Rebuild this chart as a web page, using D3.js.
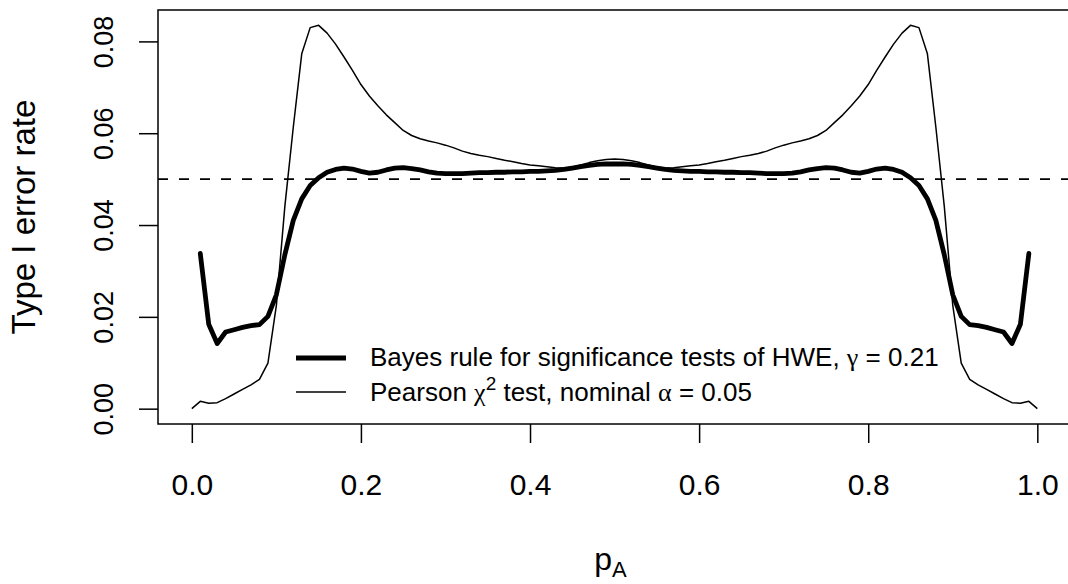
<!DOCTYPE html>
<html>
<head>
<meta charset="utf-8">
<script src="https://cdn.jsdelivr.net/npm/d3@7"></script>
<style>
  body { margin: 0; background: #fff; }
  text { font-family: "Liberation Sans", Arial, Helvetica, sans-serif; fill: #000; }
  .greek { font-family: "Liberation Serif", "DejaVu Serif", serif; }
</style>
</head>
<body>
<div id="chart"></div>
<script>
// allele frequency grid
const pA = [
  0.00, 0.01, 0.02, 0.03, 0.04, 0.05, 0.06, 0.07, 0.08, 0.09,
  0.10, 0.11, 0.12, 0.13, 0.14, 0.15, 0.16, 0.17, 0.18, 0.19,
  0.20, 0.21, 0.22, 0.23, 0.24, 0.25, 0.26, 0.27, 0.28, 0.29,
  0.30, 0.31, 0.32, 0.33, 0.34, 0.35, 0.36, 0.37, 0.38, 0.39,
  0.40, 0.41, 0.42, 0.43, 0.44, 0.45, 0.46, 0.47, 0.48, 0.49,
  0.50, 0.51, 0.52, 0.53, 0.54, 0.55, 0.56, 0.57, 0.58, 0.59,
  0.60, 0.61, 0.62, 0.63, 0.64, 0.65, 0.66, 0.67, 0.68, 0.69,
  0.70, 0.71, 0.72, 0.73, 0.74, 0.75, 0.76, 0.77, 0.78, 0.79,
  0.80, 0.81, 0.82, 0.83, 0.84, 0.85, 0.86, 0.87, 0.88, 0.89,
  0.90, 0.91, 0.92, 0.93, 0.94, 0.95, 0.96, 0.97, 0.98, 0.99,
  1.00
];

// Bayes rule (gamma = 0.21), not defined at the two ends
const bayesRate = [
  null,   0.0338, 0.0184, 0.0142, 0.0167, 0.0172, 0.0177, 0.0181, 0.0183, 0.0201,
  0.0248, 0.0335, 0.0410, 0.0457, 0.0486, 0.0503, 0.0515, 0.0521, 0.0524, 0.0522,
  0.0517, 0.0513, 0.0515, 0.0520, 0.0524, 0.0525, 0.0523, 0.0520, 0.0516, 0.0513,
  0.0512, 0.0512, 0.0512, 0.0513, 0.0514, 0.0514, 0.0515, 0.0515, 0.0516, 0.0516,
  0.0517, 0.0517, 0.0518, 0.0519, 0.0521, 0.0524, 0.0527, 0.0530, 0.0532, 0.0533,
  0.0533, 0.0533, 0.0532, 0.0530, 0.0527, 0.0524, 0.0521, 0.0519, 0.0518, 0.0517,
  0.0517, 0.0516, 0.0516, 0.0515, 0.0515, 0.0514, 0.0514, 0.0513, 0.0512, 0.0512,
  0.0512, 0.0513, 0.0516, 0.0520, 0.0523, 0.0525, 0.0524, 0.0520, 0.0515, 0.0513,
  0.0517, 0.0522, 0.0524, 0.0521, 0.0515, 0.0503, 0.0486, 0.0457, 0.0410, 0.0335,
  0.0248, 0.0201, 0.0183, 0.0181, 0.0177, 0.0172, 0.0167, 0.0142, 0.0184, 0.0338,
  null
];

// Pearson chi-square test, nominal alpha = 0.05
const pearsonRate = [
  0.0000, 0.0016, 0.0012, 0.0013, 0.0022, 0.0032, 0.0042, 0.0052, 0.0064, 0.0099,
  0.0225, 0.0440, 0.0613, 0.0773, 0.0830, 0.0835, 0.0818, 0.0794, 0.0766, 0.0737,
  0.0706, 0.0681, 0.0660, 0.0640, 0.0623, 0.0606, 0.0595, 0.0588, 0.0583, 0.0579,
  0.0574, 0.0568, 0.0561, 0.0556, 0.0552, 0.0549, 0.0545, 0.0541, 0.0538, 0.0534,
  0.0531, 0.0529, 0.0527, 0.0525, 0.0524, 0.0526, 0.0531, 0.0536, 0.0540, 0.0543,
  0.0544, 0.0543, 0.0540, 0.0536, 0.0531, 0.0526, 0.0524, 0.0525, 0.0527, 0.0529,
  0.0531, 0.0534, 0.0538, 0.0541, 0.0545, 0.0549, 0.0552, 0.0556, 0.0561, 0.0568,
  0.0574, 0.0579, 0.0583, 0.0588, 0.0595, 0.0606, 0.0623, 0.0640, 0.0660, 0.0681,
  0.0706, 0.0737, 0.0766, 0.0794, 0.0818, 0.0835, 0.0830, 0.0773, 0.0613, 0.0440,
  0.0225, 0.0099, 0.0064, 0.0052, 0.0042, 0.0032, 0.0022, 0.0013, 0.0012, 0.0016,
  0.0000
];

const nominalAlpha = 0.05;
const xTicks = [0, 0.2, 0.4, 0.6, 0.8, 1.0];
const yTicks = [0, 0.02, 0.04, 0.06, 0.08];

const width = 1068, height = 584;
const box = { left: 158, top: 10, bottom: 424 };

const svg = d3.select('#chart').append('svg')
  .attr('width', width)
  .attr('height', height);

// R style 4% padding around the data range
const yMax = d3.max(pearsonRate);
const x = d3.scaleLinear()
  .domain([-0.04, 1.04])
  .range([box.left, box.left + (1037.5 - 192) * 1.08]);
const y = d3.scaleLinear()
  .domain([-0.04 * yMax, 1.04 * yMax])
  .range([box.bottom, box.top]);

const pearsonPts = pA.map((p, i) => [p, pearsonRate[i]]);
const bayesPts = pA.map((p, i) => [p, bayesRate[i]]);

const line = d3.line()
  .defined(d => d[1] !== null)
  .x(d => x(d[0]))
  .y(d => y(d[1]));

// reference line at nominal alpha
svg.append('line')
  .attr('x1', x.range()[0]).attr('x2', x.range()[1])
  .attr('y1', y(nominalAlpha)).attr('y2', y(nominalAlpha))
  .attr('stroke', '#000')
  .attr('stroke-width', 1.6)
  .attr('stroke-dasharray', '10,11');

svg.append('path')
  .attr('d', line(pearsonPts))
  .attr('fill', 'none')
  .attr('stroke', '#000')
  .attr('stroke-width', 1.5)
  .attr('stroke-linejoin', 'round');

svg.append('path')
  .attr('d', line(bayesPts))
  .attr('fill', 'none')
  .attr('stroke', '#000')
  .attr('stroke-width', 4.8)
  .attr('stroke-linejoin', 'round')
  .attr('stroke-linecap', 'round');

// box
svg.append('rect')
  .attr('x', x.range()[0])
  .attr('y', box.top)
  .attr('width', x.range()[1] - x.range()[0])
  .attr('height', box.bottom - box.top)
  .attr('fill', 'none')
  .attr('stroke', '#000')
  .attr('stroke-width', 1.5);

// axes
const xAxis = d3.axisBottom(x)
  .tickValues(xTicks)
  .tickSize(19)
  .tickFormat(d3.format('.1f'));
const gx = svg.append('g')
  .attr('transform', `translate(0,${box.bottom})`)
  .call(xAxis);
gx.select('.domain').remove();
gx.selectAll('line').attr('stroke-width', 1.5);
gx.selectAll('text')
  .attr('font-size', 30)
  .attr('font-family', null)
  .attr('dy', null)
  .attr('y', 71);

const yAxis = d3.axisLeft(y)
  .tickValues(yTicks)
  .tickSize(19)
  .tickFormat(d3.format('.2f'));
const gy = svg.append('g')
  .attr('transform', `translate(${box.left},0)`)
  .call(yAxis);
gy.select('.domain').remove();
gy.selectAll('line').attr('stroke-width', 1.5);
gy.selectAll('text')
  .attr('font-size', 27)
  .attr('font-family', null)
  .attr('text-anchor', 'middle')
  .attr('dy', null)
  .attr('x', null)
  .attr('transform', 'translate(-45,0) rotate(-90)');

// axis titles
svg.append('text')
  .attr('transform', `translate(35,${(box.top + box.bottom) / 2}) rotate(-90)`)
  .attr('text-anchor', 'middle')
  .attr('font-size', 33)
  .text('Type I error rate');

const xt = svg.append('text')
  .attr('x', (x.range()[0] + x.range()[1]) / 2 - 4)
  .attr('y', 570)
  .attr('text-anchor', 'middle')
  .attr('font-size', 32);
xt.append('tspan').text('p');
xt.append('tspan').attr('dy', 7).attr('font-size', 22).text('A');

// legend
const legend = svg.append('g');
legend.append('line')
  .attr('x1', 296).attr('x2', 346).attr('y1', 358).attr('y2', 358)
  .attr('stroke', '#000').attr('stroke-width', 4.8);
legend.append('line')
  .attr('x1', 296).attr('x2', 346).attr('y1', 392).attr('y2', 392)
  .attr('stroke', '#000').attr('stroke-width', 1.5);

const t1 = legend.append('text')
  .attr('x', 370).attr('y', 366)
  .attr('font-size', 26);
t1.append('tspan').text('Bayes rule for significance tests of HWE, ');
t1.append('tspan').attr('class', 'greek').text('\u03B3');
t1.append('tspan').text(' = 0.21');

const t2 = legend.append('text')
  .attr('x', 370).attr('y', 401)
  .attr('font-size', 26);
t2.append('tspan').text('Pearson ');
t2.append('tspan').attr('class', 'greek').text('\u03C7');
t2.append('tspan').attr('dy', -11).attr('font-size', 19).text('2');
t2.append('tspan').attr('dy', 11).text(' test, nominal ');
t2.append('tspan').attr('class', 'greek').text('\u03B1');
t2.append('tspan').text(' = 0.05');
</script>
</body>
</html>
